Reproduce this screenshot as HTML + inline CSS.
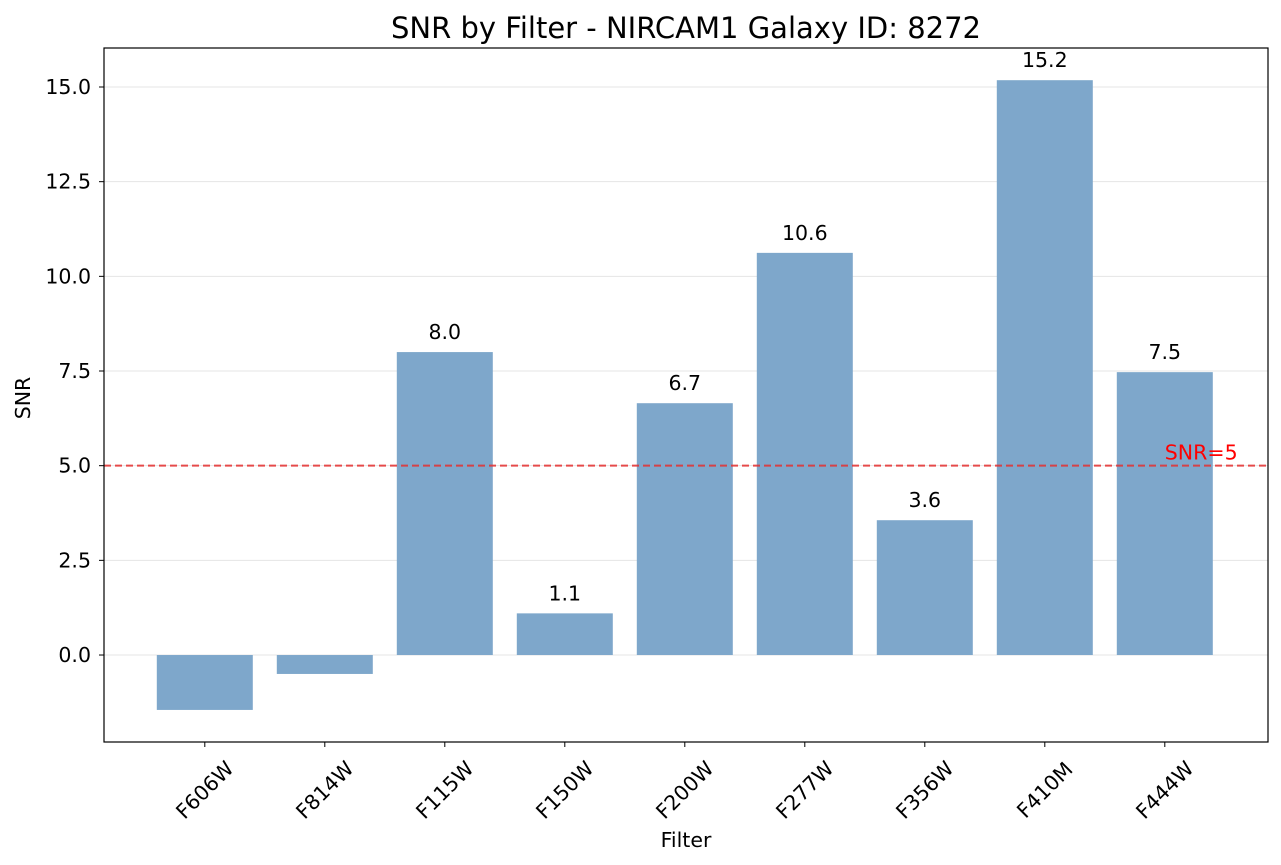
<!DOCTYPE html>
<html><head><meta charset="utf-8"><style>
body{margin:0;background:#fff;}
svg{display:block;font-family:"DejaVu Sans","Liberation Sans",sans-serif;}
</style></head><body>
<svg id="chart" width="1281" height="865" viewBox="0 0 1281 865" xmlns="http://www.w3.org/2000/svg">
<text x="686" y="38" text-anchor="middle" font-size="29">SNR by Filter - NIRCAM1 Galaxy ID: 8272</text>
<g id="grid"></g><g id="bars"></g><g id="labels"></g><g id="axes"></g>
<text x="686" y="847" text-anchor="middle" font-size="20.5">Filter</text>
<text transform="translate(30,398) rotate(-90)" text-anchor="middle" font-size="20.5">SNR</text>
</svg>
<script>
const categories = ["F606W","F814W","F115W","F150W","F200W","F277W","F356W","F410M","F444W"];
const snrValues = [-1.45,-0.5,8.0,1.1,6.65,10.62,3.56,15.18,7.47];
const yTicks = [0,2.5,5.0,7.5,10.0,12.5,15.0];
const yTickLabels = ["0.0","2.5","5.0","7.5","10.0","12.5","15.0"];
const threshold = 5;

const NS="http://www.w3.org/2000/svg";
const L=104,R=1268,T=48,B=742;
const yMin=-2.297,yMax=16.03;
const y=v=>B-(v-yMin)/(yMax-yMin)*(B-T);
const xMin=-0.84,xMax=categories.length-1+0.86;
const x=i=>L+(i-xMin)/(xMax-xMin)*(R-L);
const bw=(x(1)-x(0))*0.8;
function mk(tag,attrs,parent){const e=document.createElementNS(NS,tag);for(const k in attrs)e.setAttribute(k,attrs[k]);parent.appendChild(e);return e;}
const grid=document.getElementById('grid'),bars=document.getElementById('bars'),labels=document.getElementById('labels'),axes=document.getElementById('axes');
yTicks.forEach((t,i)=>{
  const g=mk('line',{x1:L,x2:R,y1:y(t),y2:y(t),stroke:'#e5e5e5','stroke-width':1},grid);
  
  
  const tk=mk('line',{x1:L-5,x2:L,y1:y(t),y2:y(t),stroke:'#000'},axes);
  
  
  const tl=mk('text',{x:L-13,y:y(t)+7,'text-anchor':'end','font-size':'20.5'},axes);
  tl.textContent=yTickLabels[i];
  
  
});
categories.forEach((c,i)=>{
  const v=snrValues[i];
  const top=Math.min(y(v),y(0)),h=Math.abs(y(v)-y(0));
  const r=mk('rect',{x:x(i)-bw/2,y:top,width:bw,height:h,fill:'#7ea7cb'},bars);
  
  
  if(v>0){
    const t=mk('text',{x:x(i),y:y(v)-13,'text-anchor':'middle','font-size':'20.5'},labels);
    t.textContent=v.toFixed(1);
    
    
  }
  const tk=mk('line',{x1:x(i),x2:x(i),y1:B,y2:B+5,stroke:'#000'},axes);
  
  
  const tl=mk('text',{x:0,y:7,'text-anchor':'middle','font-size':'20.5',transform:`translate(${x(i)},${B+48}) rotate(-45)`},axes);
  tl.textContent=c;
  
  
});
const th=mk('line',{x1:L,x2:R,y1:y(threshold),y2:y(threshold),stroke:'#e53030','stroke-width':2,'stroke-dasharray':'7,4',opacity:0.85},axes);


const tt=mk('text',{x:x(categories.length-1),y:y(threshold)-6,'font-size':'20.5',fill:'red'},axes);
tt.textContent='SNR='+threshold;


const fr=mk('rect',{x:L,y:T,width:R-L,height:B-T,fill:'none',stroke:'#000','stroke-width':1.2},axes);


</script>
</body></html>
